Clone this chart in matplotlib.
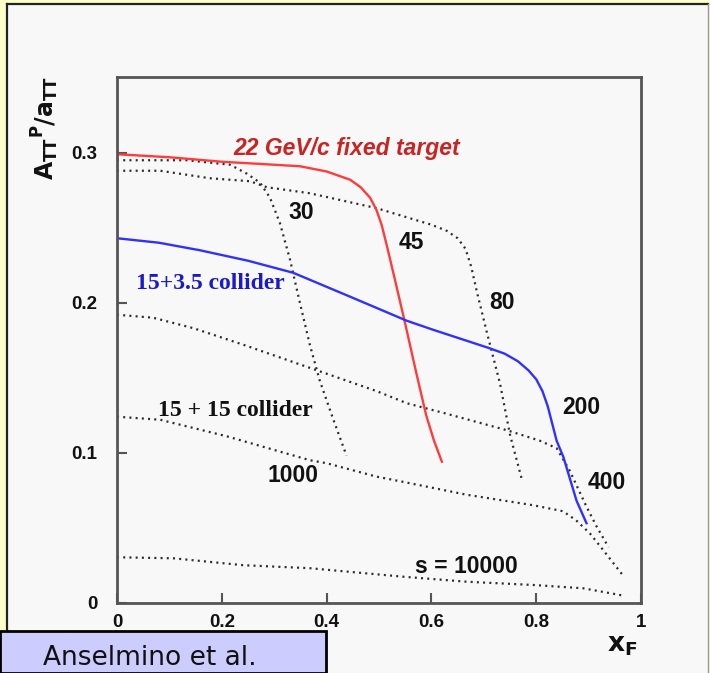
import matplotlib
matplotlib.use("Agg")
import matplotlib.pyplot as plt
from matplotlib.patches import Rectangle
from matplotlib.lines import Line2D

plt.rcParams['mathtext.fontset'] = 'dejavusans'

# ---- data ----
red_x = [0.00, 0.10, 0.20, 0.30, 0.349, 0.40, 0.445, 0.465, 0.483, 0.495, 0.505, 0.515, 0.530, 0.550, 0.570, 0.590, 0.605, 0.620]
red_y = [0.299, 0.297, 0.294, 0.292, 0.291, 0.2875, 0.282, 0.277, 0.270, 0.262, 0.252, 0.238, 0.216, 0.186, 0.155, 0.125, 0.108, 0.094]

blue_x = [0.00, 0.08, 0.158, 0.25, 0.336, 0.445, 0.553, 0.603, 0.708, 0.740, 0.765, 0.785, 0.800, 0.812, 0.822, 0.839, 0.852, 0.877, 0.896]
blue_y = [0.243, 0.240, 0.235, 0.228, 0.220, 0.204, 0.188, 0.182, 0.170, 0.166, 0.161, 0.155, 0.149, 0.141, 0.131, 0.108, 0.097, 0.068, 0.053]

s30_x = [0.00, 0.133, 0.216, 0.248, 0.273, 0.292, 0.311, 0.330, 0.349, 0.368, 0.387, 0.413, 0.438]
s30_y = [0.295, 0.295, 0.292, 0.286, 0.280, 0.270, 0.253, 0.229, 0.200, 0.172, 0.148, 0.122, 0.098]

s80_x = [0.00, 0.082, 0.177, 0.254, 0.286, 0.368, 0.496, 0.600, 0.629, 0.650, 0.665, 0.676, 0.687, 0.706, 0.731, 0.750, 0.772]
s80_y = [0.288, 0.288, 0.283, 0.281, 0.277, 0.273, 0.263, 0.252, 0.248, 0.243, 0.236, 0.224, 0.207, 0.180, 0.146, 0.112, 0.083]

s400_x = [0.00, 0.069, 0.146, 0.241, 0.381, 0.496, 0.553, 0.629, 0.744, 0.807, 0.839, 0.864, 0.896, 0.915, 0.938]
s400_y = [0.192, 0.190, 0.183, 0.172, 0.155, 0.141, 0.133, 0.126, 0.115, 0.108, 0.103, 0.088, 0.064, 0.051, 0.037]

s1000_x = [0.00, 0.082, 0.209, 0.368, 0.400, 0.496, 0.540, 0.667, 0.794, 0.851, 0.876, 0.903, 0.928, 0.966]
s1000_y = [0.124, 0.122, 0.111, 0.095, 0.093, 0.084, 0.081, 0.072, 0.065, 0.061, 0.055, 0.046, 0.035, 0.018]

s10000_x = [0.00, 0.108, 0.241, 0.368, 0.547, 0.667, 0.795, 0.890, 0.970]
s10000_y = [0.0303, 0.0296, 0.025, 0.023, 0.0173, 0.014, 0.0118, 0.0096, 0.0045]

x_ticks = [0, 0.2, 0.4, 0.6, 0.8, 1]
x_tick_labels = ['0', '0.2', '0.4', '0.6', '0.8', '1']
y_ticks = [0, 0.1, 0.2, 0.3]
y_tick_labels = ['0', '0.1', '0.2', '0.3']

# ---- figure ----
W, H = 710, 673
fig = plt.figure(figsize=(W / 100, H / 100), dpi=100, facecolor='#FFFFCC')

# inner panel (behind the axes)
fig.patches.append(Rectangle((7 / W, 0), (708 - 7) / W, (H - 4) / H, transform=fig.transFigure,
                             facecolor='#F8F8F8', edgecolor='none', zorder=-10))
fig.lines.append(Line2D([7 / W, 7 / W], [0, (H - 4) / H], transform=fig.transFigure,
                        color='#222222', lw=1.6, zorder=-5))
fig.lines.append(Line2D([7 / W, 708 / W], [(H - 4) / H, (H - 4) / H], transform=fig.transFigure,
                        color='#222222', lw=1.6, zorder=-5))
fig.lines.append(Line2D([708 / W, 708 / W], [0, (H - 4) / H], transform=fig.transFigure,
                        color='#999999', lw=1.0, zorder=-5))

ax = fig.add_axes([117 / W, (H - 602.7) / H, (641 - 117) / W, (602.7 - 77) / H])
ax.set_facecolor('#F8F8F8')
ax.set_xlim(0, 1)
ax.set_ylim(0, 0.3505)

dot_style = dict(color='#2a2a2a', lw=1.6, linestyle=(0, (0.9, 1.9)))
for xs, ys in [(s30_x, s30_y), (s80_x, s80_y), (s400_x, s400_y), (s1000_x, s1000_y), (s10000_x, s10000_y)]:
    ax.plot(xs, ys, **dot_style)
ax.plot(red_x, red_y, color='#ff3b3b', lw=1.7)
ax.plot(blue_x, blue_y, color='#3030ff', lw=1.7)

for sp in ax.spines.values():
    sp.set_color('#555555')
    sp.set_linewidth(2.0)

ax.set_xticks(x_ticks)
ax.set_xticklabels(x_tick_labels)
ax.set_yticks(y_ticks)
ax.set_yticklabels(y_tick_labels)
ax.tick_params(direction='in', length=7, width=1.5, color='#555555')
ax.tick_params(axis='x', pad=8)
ax.tick_params(axis='y', pad=14)
for lab in ax.get_xticklabels() + ax.get_yticklabels():
    lab.set_fontfamily('Liberation Sans')
    lab.set_fontweight('bold')
    lab.set_fontsize(13.5)
    lab.set_color('#111111')

num_font = dict(family='Liberation Sans', fontweight='bold', fontsize=16.5, color='#111111',
                ha='center', va='center')
ax.text(0.352, 0.260, '30', **num_font)
ax.text(0.562, 0.240, '45', **num_font)
ax.text(0.734, 0.200, '80', **num_font)
ax.text(0.887, 0.130, '200', **num_font)
ax.text(0.935, 0.080, '400', **num_font)
ax.text(0.336, 0.085, '1000', **num_font)
ax.text(0.667, 0.024, 's = 10000', **num_font)

ax.text(0.438, 0.303, '22 GeV/c fixed target', family='Liberation Sans', fontweight='bold',
        fontstyle='italic', fontsize=16.5, color='#c82424', ha='center', va='center')
ax.text(0.178, 0.213, '15+3.5 collider', family='Liberation Serif', fontweight='bold',
        fontsize=17, color='#1a1acc', ha='center', va='center')
ax.text(0.225, 0.128, '15 + 15 collider', family='Liberation Serif', fontweight='bold',
        fontsize=17, color='#111111', ha='center', va='center')

# axis labels
fig.text(45 / W, 1 - 128 / H, r'$\mathbf{A_{TT}{}^{P}/a_{TT}}$', rotation=90, fontsize=17,
         ha='center', va='center', color='#111111')
fig.text(622 / W, 1 - 645 / H, r'$\mathbf{x_F}$', fontsize=19, ha='center', va='center', color='#111111')

# citation box
fig.patches.append(Rectangle((0, 0), 326 / W, (H - 631) / H, transform=fig.transFigure,
                             facecolor='#CCCCFF', edgecolor='black', lw=2, zorder=5))
fig.text(150 / W, 1 - 658 / H, 'Anselmino et al.', fontsize=19, family='DejaVu Sans',
         ha='center', va='center', color='#111111', zorder=6)

fig.savefig('out.png', dpi=100, facecolor=fig.get_facecolor())
